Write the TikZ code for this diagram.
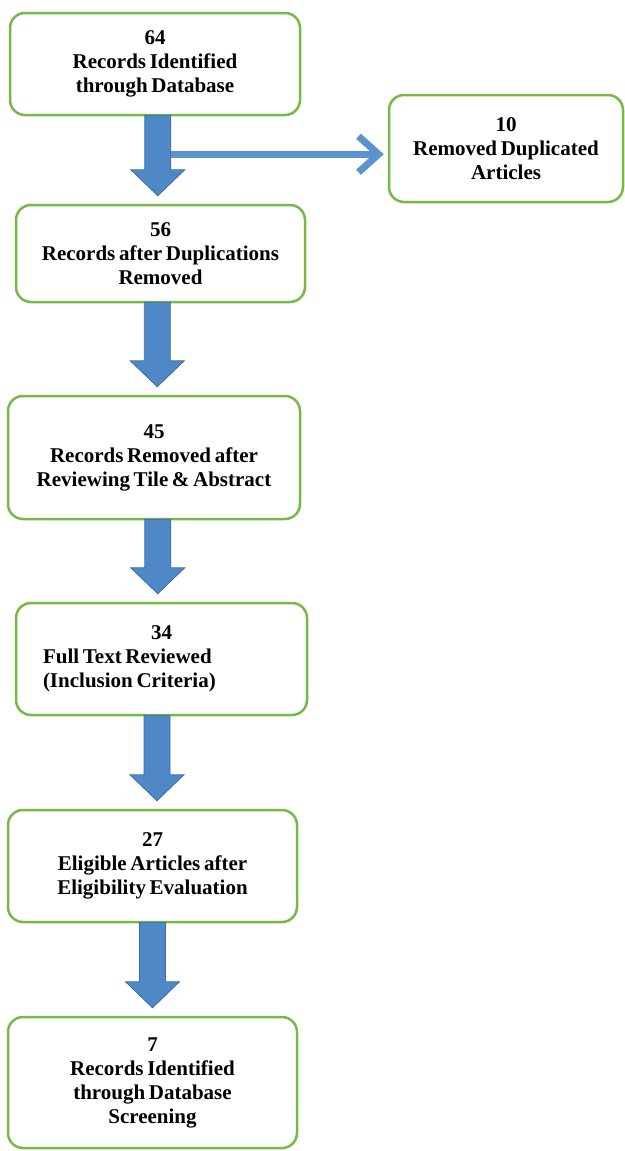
\documentclass[tikz,border=0pt]{standalone}
\usepackage{fontspec}
\setmainfont{Liberation Serif}[WordSpace=0.7]
\usetikzlibrary{arrows.meta,calc}
\definecolor{boxgreen}{HTML}{77B846}
\definecolor{flowblue}{HTML}{4F88C6}
\definecolor{flowedge}{HTML}{3C6CA3}
\definecolor{sideblue}{HTML}{5B93CF}

\begin{document}
\begin{tikzpicture}[x=1pt,y=-1pt,font=\fontsize{21}{24}\selectfont\bfseries,stage/.style={draw=boxgreen,line width=2.5pt,rounded corners=15pt,fill=white,align=center,inner sep=4pt},blockarrow/.style={fill=flowblue,draw=flowedge,line width=.8pt,line join=miter},sidearrow/.style={draw=sideblue,line width=7pt,-{Straight Barb[length=20pt,width=36pt]},shorten >=4pt}]
\useasboundingbox (0,0) rectangle (624,1151);
\node[stage,minimum width=290pt,minimum height=102pt] (ident) at (155,64) {64\\Records Identified\\through Database};
\node[stage,minimum width=234pt,minimum height=107pt] (removed) at (506,148.5) {10\\Removed Duplicated\\Articles};
\node[stage,minimum width=289pt,minimum height=97pt] (dedup) at (160.5,253.5) {56\\Records after Duplications\\Removed};
\node[stage,minimum width=292pt,minimum height=123pt] (screen) at (154,457.5) {45\\Records Removed after\\Reviewing Tile \& Abstract};
\node[stage,align=left,text width=237pt,inner xsep=27pt,minimum height=112pt] (full) at (161.5,659) {\spaceskip=0pt\xspaceskip=0pt\makebox[\linewidth]{34}\\Full Text Reviewed\\(Inclusion Criteria)};
\node[stage,minimum width=289pt,minimum height=112pt] (eligible) at (152.5,866) {27\\Eligible Articles after\\Eligibility Evaluation};
\node[stage,minimum width=289pt,minimum height=131pt] (final) at (152.5,1082.5) {7\\Records Identified\\through Database\\Screening};
\coordinate (split) at ($(ident.south)+(0,38)$);
\draw[sidearrow] (split) -- (split -| removed.west);
\foreach \a/\b in {ident/dedup,dedup/screen,screen/full,full/eligible,eligible/final}{\coordinate (mid) at ($(\a.south)!.5!(\b.north)$);
\draw[blockarrow] ($(mid|-\a.south)+(-13,-1)$) -- ($(mid|-\b.north)+(-13,-34)$) -- ++(-14,0) -- ($(mid|-\b.north)+(0,-8)$) -- ++(27,-26) -- ++(-14,0) -- ($(mid|-\a.south)+(13,-1)$) -- cycle;}
\end{tikzpicture}
\end{document}
